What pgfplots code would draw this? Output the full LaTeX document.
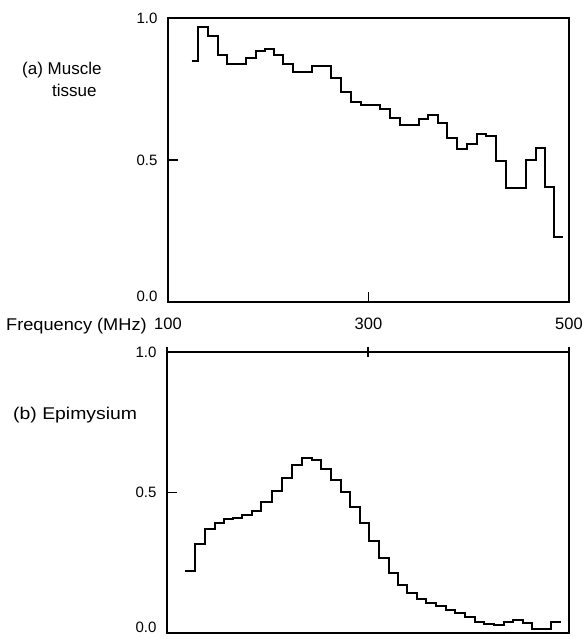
\documentclass[border=0pt]{standalone}
\usepackage{fontspec}
\setmainfont{Liberation Sans}
\usepackage{pgfplots}
\pgfplotsset{compat=1.18}

\newcommand{\lblfont}{\fontsize{17bp}{19bp}\selectfont}
\newcommand{\xtfont}{\fontsize{16.5bp}{18bp}\selectfont}
\newcommand{\ytfont}{\fontsize{15bp}{16bp}\selectfont}

\pgfplotsset{
  panel/.style={
    scale only axis,
    anchor=south west,
    xmin=100, xmax=500,
    ymin=0, ymax=1,
    ytick={0,0.5,1},
    yticklabels={\raisebox{12bp}{0.0},0.5,1.0},
    axis line style={line width=1.3bp},
    major tick style={line width=1.3bp, black},
    major tick length=10bp,
    /pgf/number format/assume math mode=true,
    yticklabel style={font=\ytfont, anchor=east, xshift=-7bp},
    xticklabel style={font=\xtfont},
    tick align=inside,
  },
  trace/.style={const plot, black, line width=2bp, mark=none},
}

\begin{document}
\begin{tikzpicture}[x=1bp,y=1bp]
\useasboundingbox (0,0) rectangle (585,639);

% (a) muscle tissue
\begin{axis}[panel,
    at={(168bp,337bp)}, width=401bp, height=284bp,
    xtick={100,300,500},
    xticklabels={100,300,500},
    xtick pos=bottom,
    ytick pos=left,
    xticklabel style={anchor=center, yshift=-22bp},
]
\addplot[trace] coordinates {
(123.6,0.849)(130,0.97)(140,0.937)(150,0.87)(158.5,0.837)(178,0.86)(187.5,0.885)
(197,0.89)(206,0.87)(215,0.837)(225,0.81)(244,0.83)(263,0.788)(273,0.738)
(283,0.705)(293,0.694)(311.5,0.68)(321.5,0.649)(331,0.622)(350,0.643)(359.6,0.658)
(369,0.631)(378.6,0.576)(388,0.538)(398,0.555)(408,0.59)(417,0.586)(427,0.497)
(437,0.40)(457,0.50)(467,0.541)(476,0.406)(485,0.228)(494,0.228)
};
\end{axis}

% (b) epimysium
\begin{axis}[panel,
    at={(167bp,6bp)}, width=402bp, height=281bp,
    xtick={100,300,500},
    xticklabels={},
    xtick pos=top,
    ytick pos=left,
    xtick align=center,
]
\addplot[trace] coordinates {
(118,0.222)(128,0.317)(138,0.369)(148,0.393)(157,0.404)(166,0.409)(175,0.42)
(185,0.435)(194,0.465)(204,0.505)(214,0.55)(224,0.599)(234,0.622)(244,0.616)
(253,0.584)(263,0.544)(273,0.501)(282,0.45)(292,0.393)(301,0.329)(311,0.266)
(321,0.212)(330,0.171)(339,0.141)(349,0.12)(358,0.106)(368,0.096)(378,0.082)
(387,0.07)(397,0.058)(406,0.04)(415,0.031)(425,0.028)(435,0.038)(444,0.046)
(454,0.037)(463,0.014)(482,0.04)(492,0.04)
};
\end{axis}

\node[anchor=west, font=\lblfont, inner sep=0] at (6,313) {\scalebox{1.07}[1]{Frequency (MHz)}};
\node[anchor=west, font=\lblfont, inner sep=0] at (22,569) {(a) Muscle};
\node[anchor=west, font=\lblfont, inner sep=0] at (52,549) {tissue};
\node[anchor=west, font=\lblfont, inner sep=0] at (13,224) {\scalebox{1.14}[1]{(b) Epimysium}};
\end{tikzpicture}
\end{document}
